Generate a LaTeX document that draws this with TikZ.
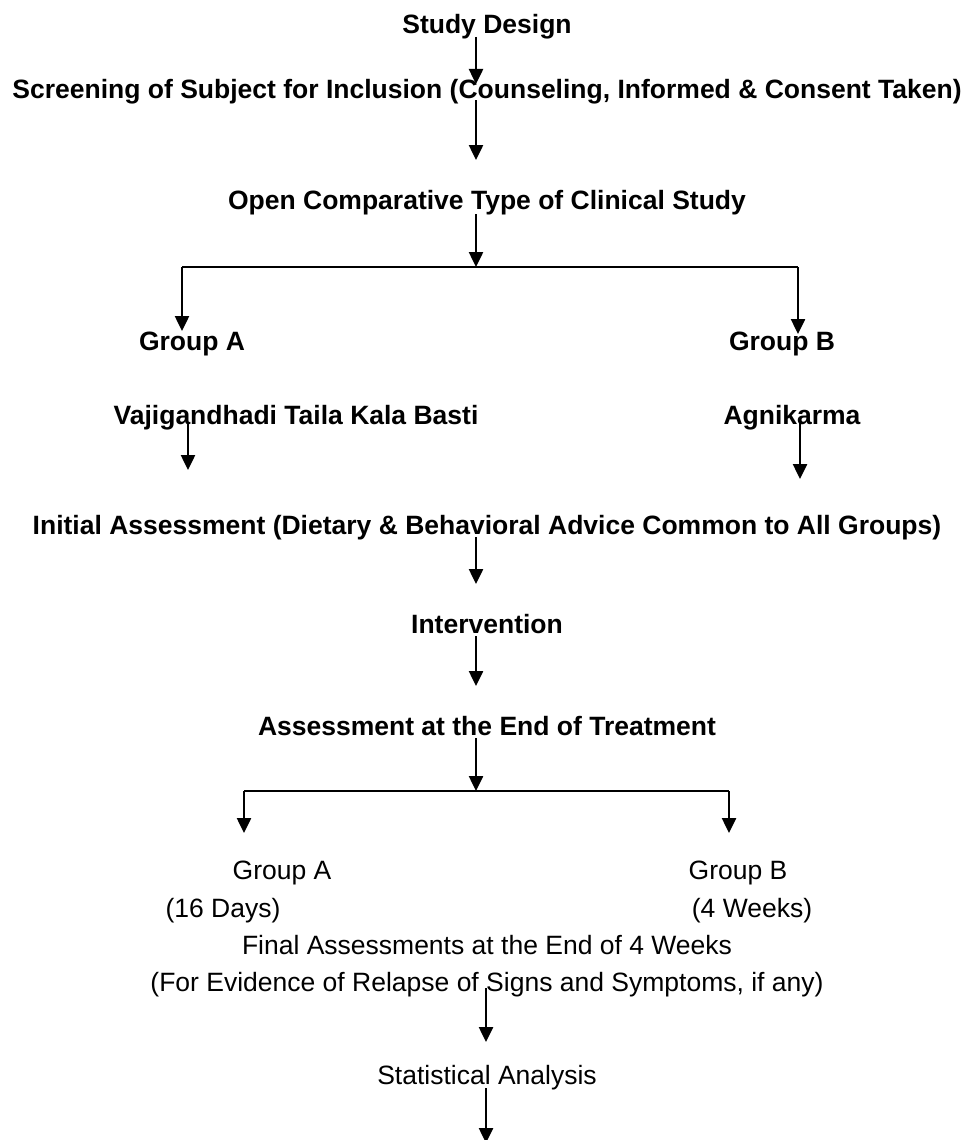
\documentclass[tikz,border=0pt]{standalone}
\usepackage{fontspec}
\setmainfont{Liberation Sans}
\usetikzlibrary{arrows.meta}
\begin{document}
\begin{tikzpicture}[x=1pt,y=-1pt,
  bt/.style={font=\fontsize{26.5}{30}\selectfont\bfseries, inner sep=0pt, anchor=base},
  rt/.style={font=\fontsize{26.5}{30}\selectfont, inner sep=0pt, anchor=base},
  arr/.style={line width=2.5pt, -{Triangle[width=14pt,length=15pt]}},
  hl/.style={line width=2pt}]
\useasboundingbox (0,0) rectangle (969,1140);
% texts
\node[bt] (sd)  at (487,34)  {Study Design};
\node[bt] (scr) at (487,98)  {Screening of Subject for Inclusion (Counseling, Informed \& Consent Taken)};
\node[bt] (oc)  at (487,209) {Open Comparative Type of Clinical Study};
\node[bt] (gA)  at (192,350) {Group A};
\node[bt] (gB)  at (782,350) {Group B};
\node[bt] (vt)  at (296,424) {Vajigandhadi Taila Kala Basti};
\node[bt] (ag)  at (792,424) {Agnikarma};
\node[bt] (ia)  at (487,534) {Initial Assessment (Dietary \& Behavioral Advice Common to All Groups)};
\node[bt] (iv)  at (487,633) {Intervention};
\node[bt] (ae)  at (487,735) {Assessment at the End of Treatment};
\node[rt] (rA)  at (282,879) {Group A};
\node[rt] (rB)  at (738,879) {Group B};
\node[rt] (dA)  at (223,917) {(16 Days)};
\node[rt] (dB)  at (752,917) {(4 Weeks)};
\node[rt] (fa)  at (487,954) {Final Assessments at the End of 4 Weeks};
\node[rt] (fe)  at (487,991) {(For Evidence of Relapse of Signs and Symptoms, if any)};
\node[rt] (sa)  at (487,1084) {Statistical Analysis};
% connector points
\coordinate (a1s) at (476,37);  \coordinate (a1e) at (476,84);
\coordinate (a2s) at (476,100); \coordinate (a2e) at (476,160);
\coordinate (a3s) at (476,214); \coordinate (j1)  at (476,267);
\coordinate (j1l) at (182,267); \coordinate (j1r) at (798,267);
\coordinate (gAe) at (182,331); \coordinate (gBe) at (798,334);
\coordinate (vts) at (188,422); \coordinate (vte) at (188,470);
\coordinate (ags) at (800,423); \coordinate (age) at (800,479);
\coordinate (ias) at (476,537); \coordinate (iae) at (476,584);
\coordinate (ivs) at (476,636); \coordinate (ive) at (476,686);
\coordinate (aes) at (476,738); \coordinate (j2)  at (476,791);
\coordinate (j2l) at (244,791); \coordinate (j2r) at (729,791);
\coordinate (rAe) at (244,833); \coordinate (rBe) at (729,833);
\coordinate (fes) at (486,988); \coordinate (fee) at (486,1042);
\coordinate (sas) at (486,1088); \coordinate (sae) at (486,1143);
% connectors
\draw[arr] (a1s) -- (a1e);
\draw[arr] (a2s) -- (a2e);
\draw[arr] (a3s) -- (j1);
\draw[hl] (j1l) -- (j1r);
\draw[arr] (j1l) -- (gAe);
\draw[arr] (j1r) -- (gBe);
\draw[arr] (vts) -- (vte);
\draw[arr] (ags) -- (age);
\draw[arr] (ias) -- (iae);
\draw[arr] (ivs) -- (ive);
\draw[arr] (aes) -- (j2);
\draw[hl] (j2l) -- (j2r);
\draw[arr] (j2l) -- (rAe);
\draw[arr] (j2r) -- (rBe);
\draw[arr] (fes) -- (fee);
\draw[arr] (sas) -- (sae);
\end{tikzpicture}
\end{document}
